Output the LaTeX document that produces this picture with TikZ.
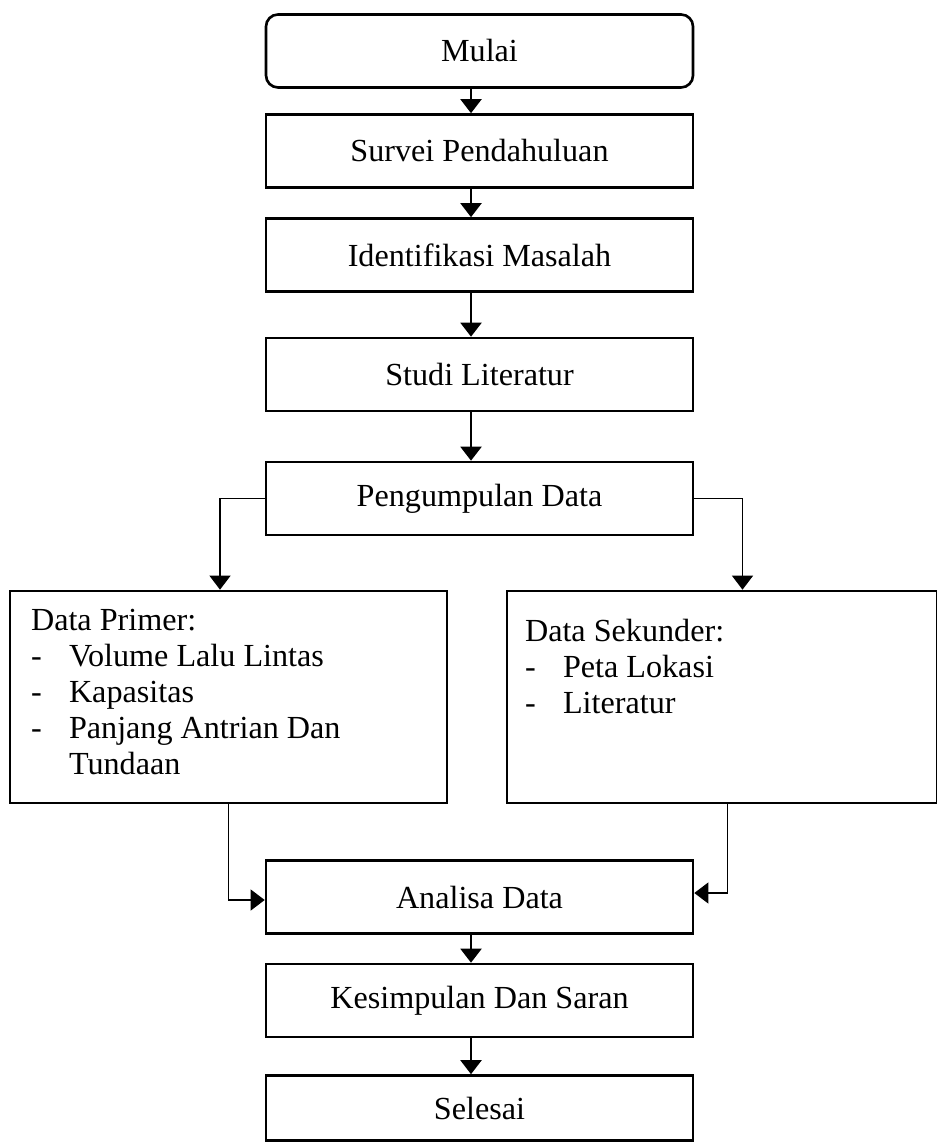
\documentclass[tikz,border=0pt]{standalone}
\usepackage{fontspec}
\setmainfont{Liberation Serif}
\usetikzlibrary{arrows.meta,positioning}

\begin{document}
\begin{tikzpicture}[
  box/.style={draw, line width=1.5pt, minimum width=8.54cm, minimum height=1.46cm, inner sep=0pt, font=\fontsize{18.3}{20.5}\selectfont},
  startbox/.style={box, rounded corners=0.24cm},
  sidebox/.style={draw, line width=1.5pt, minimum height=4.24cm, inner sep=0pt},
  sidetext/.style={anchor=north west, inner sep=0pt, align=left, font=\fontsize{18.3}{20.5}\selectfont},
  arr/.style={line width=1.2pt, -{Triangle[width=4.2mm,length=2.8mm]}},
  thinarr/.style={line width=0.6pt, -{Triangle[width=4.2mm,length=2.8mm]}}
]
\useasboundingbox (0,0) rectangle (18.74,-22.84);
% main column
\node[startbox] (mulai) at (9.59,-1.02) {Mulai};
\node[box] (survei) at (9.59,-3.02) {Survei Pendahuluan};
\node[box] (identifikasi) at (9.59,-5.10) {Identifikasi Masalah};
\node[box] (studi) at (9.59,-7.49) {Studi Literatur};
\node[box] (kumpul) at (9.59,-9.97) {Pengumpulan Data};
% data boxes
\node[sidebox, minimum width=8.74cm] (primer) at (4.57,-13.94) {};
\node[sidebox, minimum width=8.60cm] (sekunder) at (14.44,-13.94) {};
\node[sidetext] (primertext) at ([xshift=4.4mm,yshift=-3.8mm]primer.north west)
  {Data Primer:\\ \makebox[7.6mm][l]{-}Volume Lalu Lintas\\ \makebox[7.6mm][l]{-}Kapasitas\\ \makebox[7.6mm][l]{-}Panjang Antrian Dan\\ \hspace*{7.6mm}Tundaan};
\node[sidetext] (sekundertext) at ([xshift=3.8mm,yshift=-5.8mm]sekunder.north west)
  {Data Sekunder:\\ \makebox[7.6mm][l]{-}Peta Lokasi\\ \makebox[7.6mm][l]{-}Literatur};
% lower column
\node[box] (analisa) at (9.59,-17.94) {Analisa Data};
\node[box] (kesimpulan) at (9.59,-20.01) {Kesimpulan Dan Saran};
\node[box, minimum height=1.30cm] (selesai) at (9.59,-22.16) {Selesai};
% arrows
\draw[arr] ([xshift=-1.7mm]mulai.south) -- ([xshift=-1.7mm]survei.north);
\draw[arr] ([xshift=-1.7mm]survei.south) -- ([xshift=-1.7mm]identifikasi.north);
\draw[arr] ([xshift=-1.7mm]identifikasi.south) -- ([xshift=-1.7mm]studi.north);
\draw[arr] ([xshift=-1.7mm]studi.south) -- ([xshift=-1.7mm]kumpul.north);
\draw[thinarr] (kumpul.west) -| ([xshift=-1.7mm]primer.north);
\draw[thinarr] (kumpul.east) -| ([xshift=4.1mm]sekunder.north);
\draw[thinarr] (primer.south) |- ([yshift=-0.6mm]analisa.west);
\draw[thinarr] ([xshift=1.1mm]sekunder.south) |- ([yshift=0.8mm]analisa.east);
\draw[arr] ([xshift=-1.7mm]analisa.south) -- ([xshift=-1.7mm]kesimpulan.north);
\draw[arr] ([xshift=-1.7mm]kesimpulan.south) -- ([xshift=-1.7mm]selesai.north);
\end{tikzpicture}
\end{document}
